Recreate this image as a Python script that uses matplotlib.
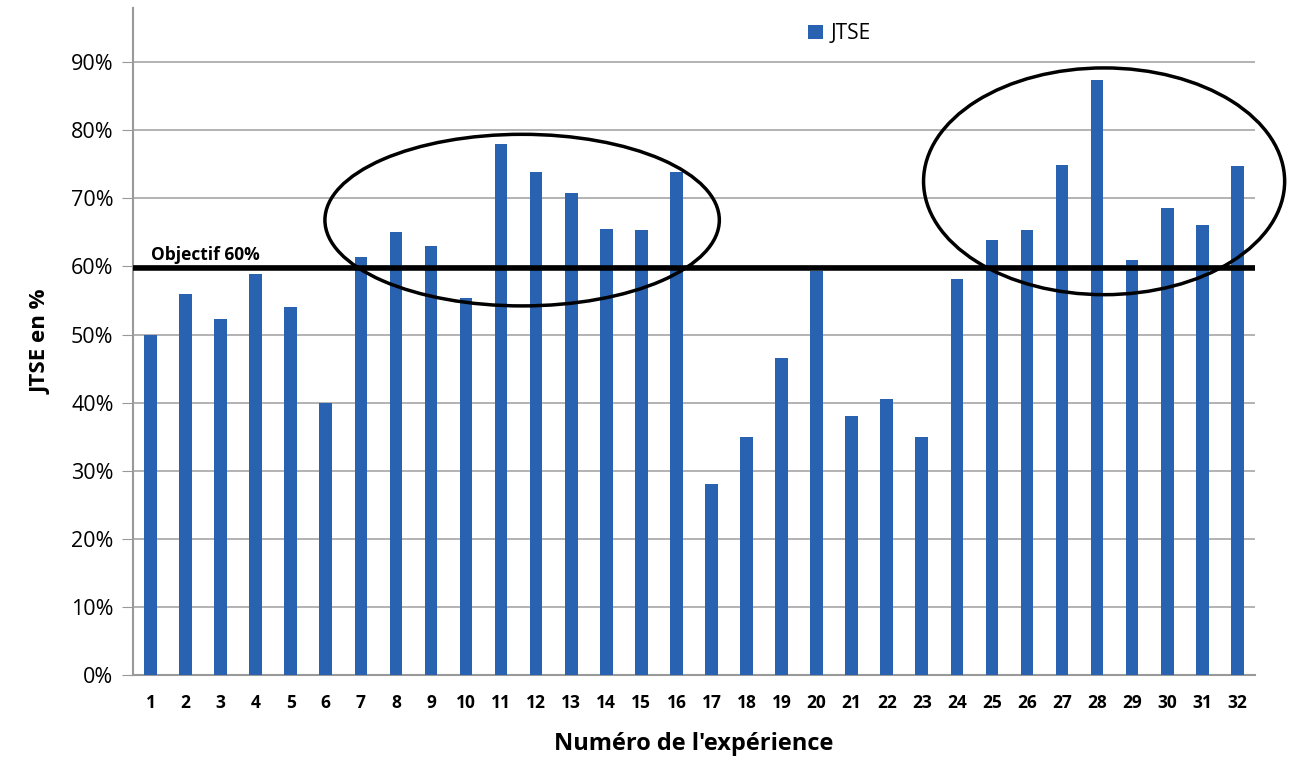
import numpy as np
import matplotlib
matplotlib.use('Agg')
from matplotlib import pyplot as plt
from matplotlib.patches import Ellipse
from matplotlib.ticker import PercentFormatter

plt.rcParams['font.family'] = ['Open Sans', 'DejaVu Sans']

# data
experiences = list(range(1, 33))
jtse = [0.500, 0.559, 0.523, 0.589, 0.540, 0.399, 0.614, 0.651, 0.630, 0.553,
        0.780, 0.739, 0.708, 0.655, 0.654, 0.739, 0.280, 0.350, 0.466, 0.594,
        0.381, 0.405, 0.349, 0.581, 0.639, 0.654, 0.749, 0.874, 0.610, 0.686,
        0.661, 0.748]
objectif = 0.597
y_ticks = [0, 0.1, 0.2, 0.3, 0.4, 0.5, 0.6, 0.7, 0.8, 0.9]

fig = plt.figure(figsize=(12.91, 7.67), dpi=100)
ax = fig.add_axes([0.103, 0.12, 0.869, 0.87])

ax.bar(experiences, jtse, width=0.36, color='#2862b0', label='JTSE', zorder=3)
ax.axhline(objectif, color='black', lw=4, zorder=4)
ax.text(1.0, objectif + 0.012, 'Objectif 60%', fontsize=12.5, fontweight='bold')

# circled groups
ax.add_patch(Ellipse((11.6, 0.668), 11.25, 0.252, fill=False, ec='black', lw=2.5, zorder=5, clip_on=False))
ax.add_patch(Ellipse((28.2, 0.725), 10.3, 0.333, fill=False, ec='black', lw=2.5, zorder=5, clip_on=False))

ax.set_xlim(0.5, 32.5)
ax.set_ylim(0, 0.98)
ax.set_yticks(y_ticks)
ax.yaxis.set_major_formatter(PercentFormatter(1.0, decimals=0))
ax.set_xticks(experiences)
ax.tick_params(axis='y', labelsize=15.5, length=8, color='#999999', pad=6)
ax.tick_params(axis='x', labelsize=12.5, length=0, pad=14)
for lbl in ax.get_xticklabels():
    lbl.set_fontweight('bold')
ax.grid(axis='y', color='#a6a6a6', lw=1.2, zorder=0)
for s in ['top', 'right']:
    ax.spines[s].set_visible(False)
ax.spines['left'].set_color('#999999')
ax.spines['bottom'].set_color('#999999')
ax.spines['left'].set_linewidth(1.5)
ax.spines['bottom'].set_linewidth(1.5)

ax.set_ylabel('JTSE en %', fontsize=16, fontweight='bold', labelpad=14)
ax.set_xlabel("Numéro de l'expérience", fontsize=17, fontweight='bold', labelpad=14)
ax.legend(loc='upper center', bbox_to_anchor=(0.63, 1.005), frameon=False, fontsize=15,
          handlelength=0.7, handleheight=0.7, handletextpad=0.4)

fig.savefig('out.png')
